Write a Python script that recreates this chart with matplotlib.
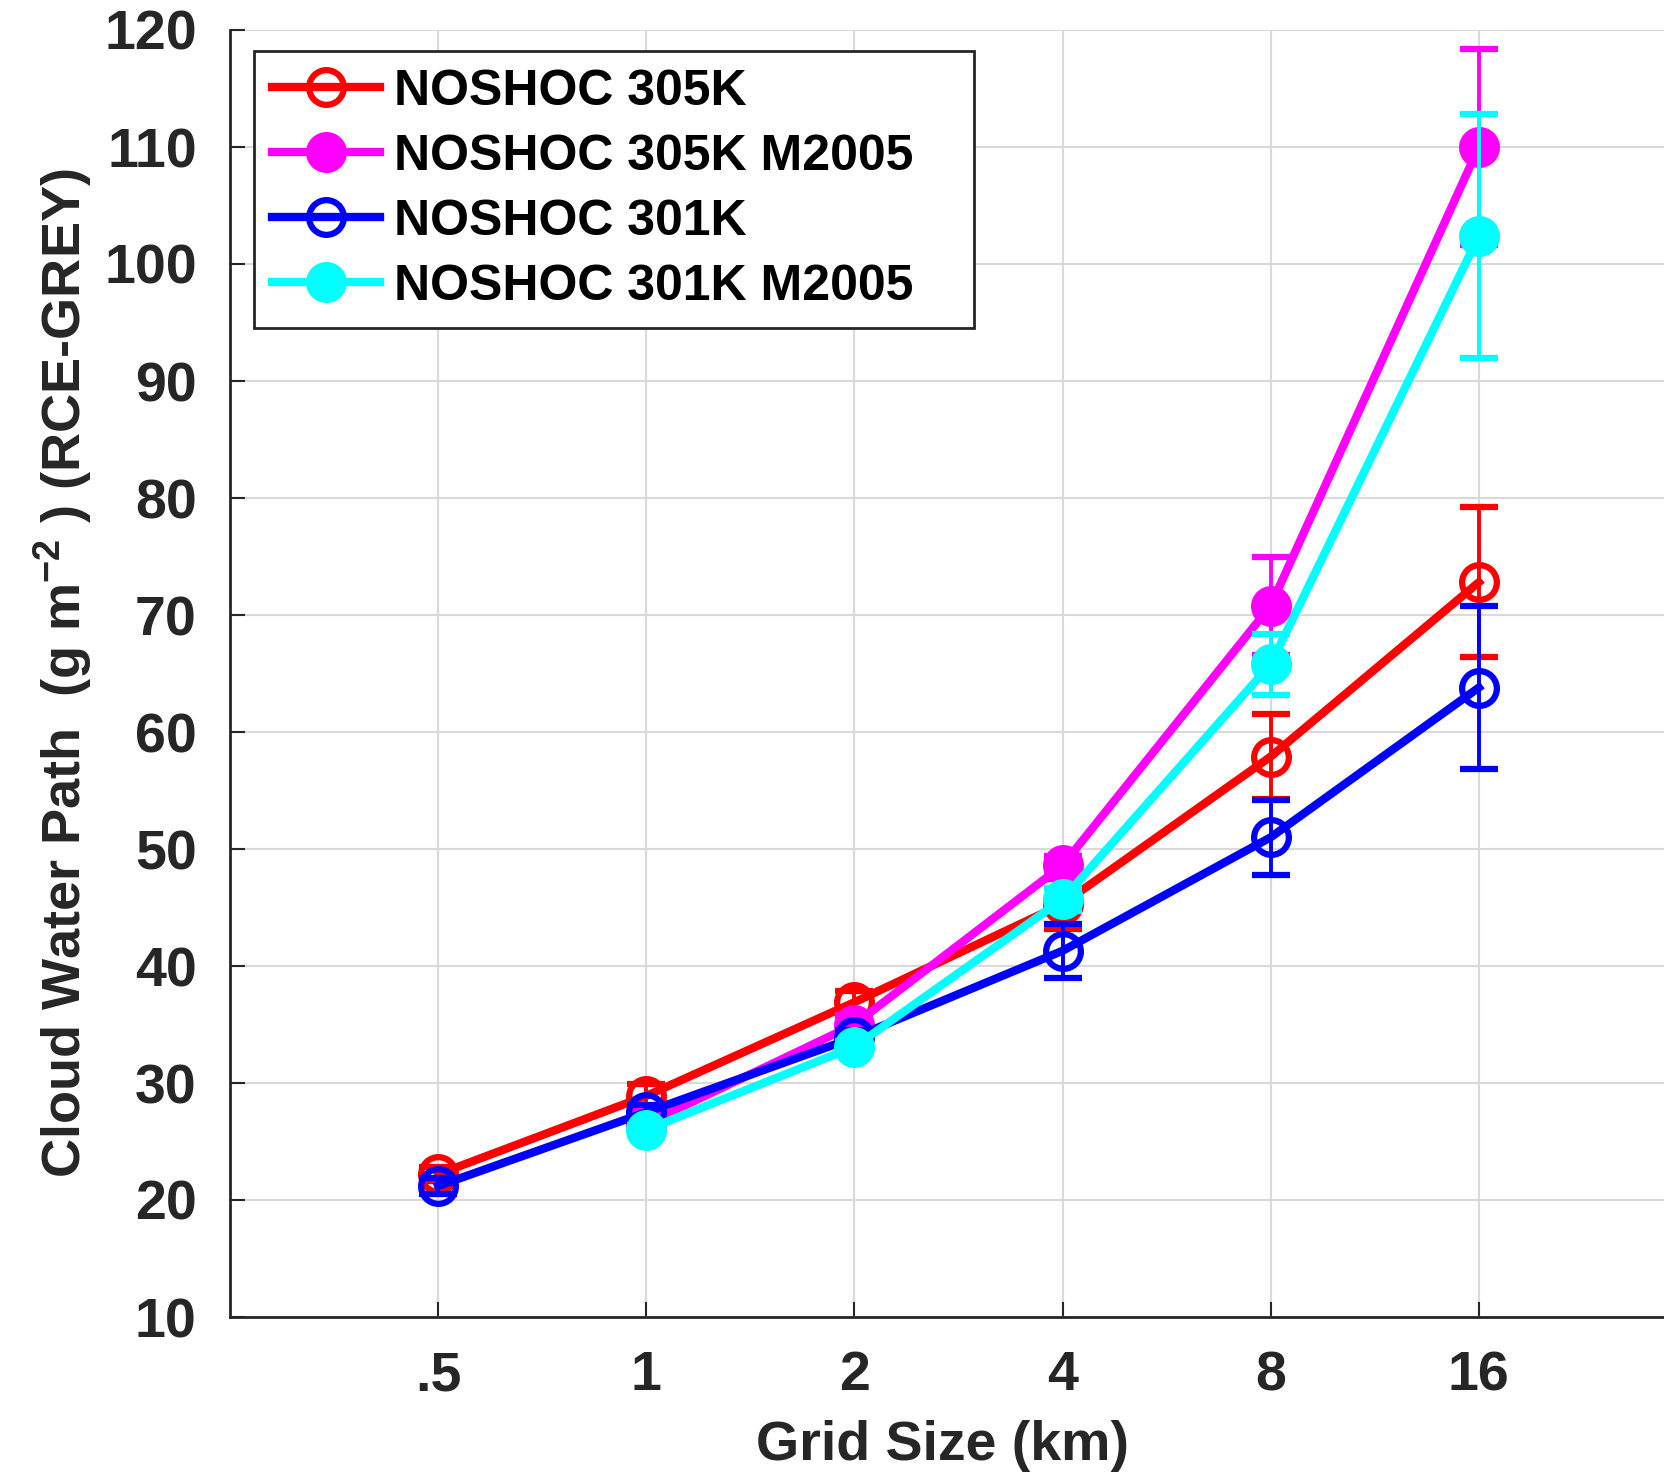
import matplotlib
matplotlib.use("Agg")
import matplotlib.pyplot as plt
from matplotlib.lines import Line2D

# 데이터
grid_all = [0.5, 1, 2, 4, 8, 16]
grid_m2005 = [1, 2, 4, 8, 16]

cwp_305 = [22.2, 28.9, 36.9, 45.3, 57.9, 72.8]
err_305 = [0.6, 1.0, 1.0, 2.1, 3.6, 6.4]

cwp_305_m2005 = [26.5, 35.0, 48.6, 70.8, 110.0]
err_305_m2005 = [0.6, 0.8, 0.8, 4.2, 8.4]

cwp_301 = [21.2, 27.5, 33.9, 41.3, 51.0, 63.8]
err_301 = [0.7, 0.6, 0.6, 2.3, 3.2, 7.0]

cwp_301_m2005 = [26.0, 33.1, 45.7, 65.8, 102.4]
err_301_m2005 = [0.4, 0.5, 1.0, 2.6, 10.4]

xtick_vals = [0.5, 1, 2, 4, 8, 16]
xtick_labels = ['.5', '1', '2', '4', '8', '16']
ytick_vals = list(range(10, 121, 10))

# 폰트 설정
plt.rcParams['font.family'] = ['Liberation Sans', 'DejaVu Sans']
plt.rcParams['font.weight'] = 'bold'
plt.rcParams['axes.labelweight'] = 'bold'
plt.rcParams['mathtext.fontset'] = 'custom'
plt.rcParams['mathtext.rm'] = 'Liberation Sans:bold'
plt.rcParams['mathtext.default'] = 'rm'

W, H = 1664, 1476
fig = plt.figure(figsize=(W / 100, H / 100), dpi=100)
# 축 오른쪽 끝은 그림 밖으로 나감 (원본처럼 잘림)
ax = fig.add_axes([230 / W, 1 - 1317 / H, (1687 - 230) / W, (1317 - 30) / H])

dark = '#262626'
lw = 6
elw = 2.8
ms = 25
mew = 4.5
cap = 14

series = [
    (grid_all, cwp_305, err_305, 'red', 'none', 'NOSHOC 305K'),
    (grid_m2005, cwp_305_m2005, err_305_m2005, 'magenta', 'magenta', 'NOSHOC 305K M2005'),
    (grid_all, cwp_301, err_301, 'blue', 'none', 'NOSHOC 301K'),
    (grid_m2005, cwp_301_m2005, err_301_m2005, 'cyan', 'cyan', 'NOSHOC 301K M2005'),
]

handles = []
for i, (x, y, e, c, fc, lab) in enumerate(series):
    ax.errorbar(x, y, yerr=e, color=c, lw=lw, elinewidth=elw, capsize=cap, capthick=elw,
                marker='o', ms=ms, mfc=fc, mec=c, mew=mew, zorder=3 + i)
    # 범례는 에러바 없이 선+마커만
    handles.append(Line2D([], [], color=c, lw=lw, marker='o', ms=ms, mfc=fc, mec=c,
                          mew=mew, label=lab))

ax.set_xscale('log', base=2)
ax.set_xlim(0.25, 32)
ax.set_ylim(10, 120)
ax.set_xticks(xtick_vals)
ax.set_xticklabels(xtick_labels)
ax.minorticks_off()
ax.set_yticks(ytick_vals)

ax.grid(True, color='#d9d9d9', lw=1.5, zorder=0)
ax.set_axisbelow(True)

for s in ['top', 'right']:
    ax.spines[s].set_visible(False)
for s in ['left', 'bottom']:
    ax.spines[s].set_color(dark)
    ax.spines[s].set_linewidth(2)

ax.tick_params(direction='in', length=11, width=1.5, color=dark, labelcolor=dark,
               labelsize=40, pad=24)

ax.set_xlabel('Grid Size (km)', fontsize=40, color=dark, fontweight='bold')
ax.set_ylabel('Cloud Water Path  (g m$^{-2}$ ) (RCE-GREY)', fontsize=39, color=dark,
              fontweight='bold')
ax.xaxis.set_label_coords(0.489, -0.08)
ax.yaxis.set_label_coords(-0.093, 0.5)

leg = ax.legend(handles=handles, loc='upper left', bbox_to_anchor=(0.0165, 0.5, 0.494, 0.4837),
                mode='expand', borderaxespad=0, fontsize=36, handlelength=2.15,
                handletextpad=0.28, labelspacing=0.38, borderpad=0.36, fancybox=False,
                framealpha=1)
leg.get_frame().set_edgecolor(dark)
leg.get_frame().set_linewidth(2)
for t in leg.get_texts():
    t.set_color('black')

fig.savefig('out.png', dpi=100)
